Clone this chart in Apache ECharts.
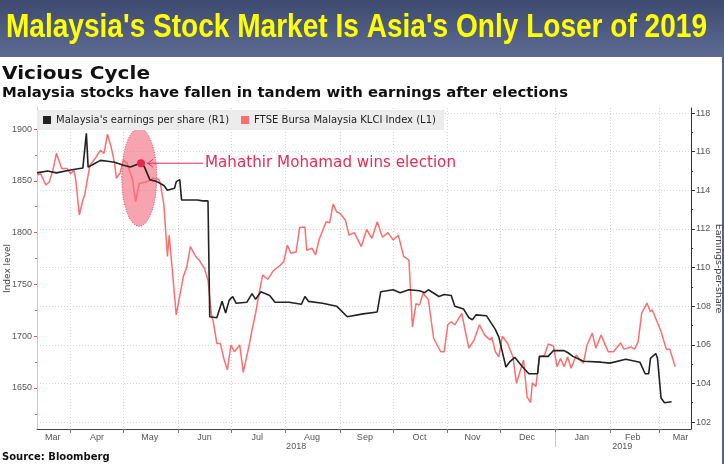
<!DOCTYPE html>
<html lang="en">
<head>
<meta charset="UTF-8">
<title>Malaysia's Stock Market Is Asia's Only Loser of 2019</title>
<script src="https://cdn.jsdelivr.net/npm/echarts@6.0.0/dist/echarts.min.js"></script>
<style>
    html, body { margin: 0; padding: 0; background: #fff; }
    #box { width: 724px; height: 464px; }
</style>
</head>
<body>
<div id="box"></div>
<script>
    // Malaysia's earnings per share (right axis)
    var eps = [
        ['2018-03-13',114.9],['2018-03-19',115.0],['2018-03-20',115.05],['2018-03-24',114.9],['2018-04-01',115.05],
        ['2018-04-08',115.15],['2018-04-10',116.95],['2018-04-11',115.2],['2018-04-15',115.4],['2018-04-18',115.55],
        ['2018-04-22',115.5],['2018-04-26',115.45],['2018-05-01',115.3],['2018-05-05',115.2],['2018-05-09',115.35],
        ['2018-05-11',115.4],['2018-05-13',115.2],['2018-05-16',114.55],['2018-05-20',114.45],['2018-05-24',114.25],
        ['2018-05-26',114.0],['2018-05-30',114.1],['2018-05-31',114.45],['2018-06-02',114.55],['2018-06-03',113.5],
        ['2018-06-12',113.5],['2018-06-15',113.45],['2018-06-18',113.45],['2018-06-19',107.45],['2018-06-23',107.4],
        ['2018-06-26',108.25],['2018-06-28',107.65],['2018-06-30',108.3],['2018-07-02',108.5],['2018-07-04',108.15],
        ['2018-07-10',108.2],['2018-07-13',108.65],['2018-07-15',108.35],['2018-07-18',108.75],['2018-07-23',108.55],
        ['2018-07-26',108.2],['2018-08-03',108.2],['2018-08-10',108.1],['2018-08-12',108.5],['2018-08-14',108.25],
        ['2018-08-22',108.15],['2018-08-30',108.0],['2018-09-05',107.45],['2018-09-14',107.6],['2018-09-22',107.7],
        ['2018-09-24',108.75],['2018-10-01',108.85],['2018-10-05',108.7],['2018-10-10',108.85],['2018-10-16',108.8],
        ['2018-10-19',108.7],['2018-10-21',108.85],['2018-10-27',108.5],['2018-10-30',108.6],['2018-11-03',108.55],
        ['2018-11-05',108.0],['2018-11-10',107.85],['2018-11-13',107.4],['2018-11-15',107.3],['2018-11-17',107.55],
        ['2018-11-23',107.5],['2018-11-28',106.8],['2018-11-30',106.4],['2018-12-04',104.85],['2018-12-06',105.1],
        ['2018-12-09',105.35],['2018-12-13',104.9],['2018-12-17',104.5],['2018-12-22',104.5],['2018-12-23',105.4],
        ['2018-12-28',105.4],['2018-12-31',105.7],['2019-01-06',105.7],['2019-01-08',105.6],['2019-01-11',105.4],
        ['2019-01-17',105.15],['2019-01-27',105.1],['2019-02-01',105.05],['2019-02-10',105.25],['2019-02-18',105.1],
        ['2019-02-21',104.5],['2019-02-23',104.5],['2019-02-24',105.3],['2019-02-27',105.55],['2019-02-28',105.3],
        ['2019-03-02',103.25],['2019-03-04',103.0],['2019-03-08',103.05]
    ];

    // FTSE Bursa Malaysia KLCI Index (left axis)
    var klci = [
        ['2018-03-13',1855.5],['2018-03-15',1857],['2018-03-18',1846],['2018-03-20',1849],['2018-03-22',1860],
        ['2018-03-24',1876.5],['2018-03-27',1862],['2018-03-30',1862],['2018-04-01',1857],['2018-04-03',1860],
        ['2018-04-04',1851],['2018-04-06',1817],['2018-04-08',1831.5],['2018-04-09',1836],['2018-04-12',1865],
        ['2018-04-15',1871.5],['2018-04-18',1879.5],['2018-04-20',1876.5],['2018-04-22',1895],['2018-04-24',1883],
        ['2018-04-26',1867],['2018-04-27',1852.5],['2018-04-29',1857],['2018-05-01',1870],['2018-05-03',1867],
        ['2018-05-06',1852.5],['2018-05-08',1830],['2018-05-10',1847.5],['2018-05-14',1849],['2018-05-18',1852.5],
        ['2018-05-21',1851.5],['2018-05-22',1847.5],['2018-05-24',1826.5],['2018-05-26',1777],['2018-05-27',1797.5],
        ['2018-05-28',1796],['2018-05-31',1720.5],['2018-06-04',1757.5],['2018-06-06',1767],['2018-06-08',1786.5],
        ['2018-06-11',1777],['2018-06-13',1773.5],['2018-06-16',1765.5],['2018-06-18',1754],['2018-06-20',1720.5],
        ['2018-06-21',1714],['2018-06-23',1693],['2018-06-25',1693],['2018-06-27',1678.5],['2018-06-29',1667.5],
        ['2018-06-30',1666.5],['2018-07-01',1691.5],['2018-07-03',1685],['2018-07-06',1691.5],['2018-07-08',1665],
        ['2018-07-11',1688.5],['2018-07-13',1706],['2018-07-15',1722],['2018-07-17',1741.5],['2018-07-19',1759],
        ['2018-07-22',1755],['2018-07-25',1763],['2018-07-29',1768.5],['2018-07-31',1772],['2018-08-02',1788],
        ['2018-08-04',1780],['2018-08-07',1781.5],['2018-08-09',1805],['2018-08-12',1805.5],['2018-08-13',1783],
        ['2018-08-16',1785],['2018-08-18',1778.5],['2018-08-20',1793],['2018-08-24',1810.5],['2018-08-26',1809.5],
        ['2018-08-28',1827.5],['2018-08-30',1820],['2018-09-01',1818.5],['2018-09-04',1812],['2018-09-06',1797.5],
        ['2018-09-09',1800],['2018-09-13',1786.5],['2018-09-16',1803],['2018-09-19',1794.5],['2018-09-22',1810.5],
        ['2018-09-25',1795.5],['2018-09-28',1800],['2018-10-01',1793],['2018-10-04',1797.5],['2018-10-07',1777],
        ['2018-10-10',1773.5],['2018-10-12',1709],['2018-10-14',1731.5],['2018-10-16',1730],['2018-10-18',1741.5],
        ['2018-10-21',1735.5],['2018-10-24',1698],['2018-10-28',1685],['2018-10-30',1685],['2018-11-01',1711],
        ['2018-11-03',1714],['2018-11-05',1711],['2018-11-09',1722],['2018-11-11',1704.5],['2018-11-13',1688.5],
        ['2018-11-16',1696.5],['2018-11-19',1711],['2018-11-22',1701],['2018-11-25',1696.5],['2018-11-26',1699],
        ['2018-11-28',1685],['2018-11-30',1680],['2018-12-02',1700],['2018-12-05',1693],['2018-12-08',1680],
        ['2018-12-10',1654.5],['2018-12-14',1677],['2018-12-16',1641.5],['2018-12-18',1636],['2018-12-19',1655],
        ['2018-12-21',1651.5],['2018-12-23',1680],['2018-12-26',1682],['2018-12-28',1692.5],['2018-12-31',1690.5],
        ['2019-01-02',1670.5],['2019-01-04',1678.5],['2019-01-06',1670.5],['2019-01-08',1680],['2019-01-10',1669],
        ['2019-01-13',1682],['2019-01-15',1677],['2019-01-17',1674],['2019-01-19',1691.5],['2019-01-22',1703],
        ['2019-01-24',1688.5],['2019-01-27',1701],['2019-01-31',1685],['2019-02-03',1685],['2019-02-07',1693.5],
        ['2019-02-09',1687.5],['2019-02-13',1689.5],['2019-02-15',1687.5],['2019-02-17',1694.5],['2019-02-19',1722],
        ['2019-02-22',1732],['2019-02-24',1723.5],['2019-02-25',1725.5],['2019-03-02',1704.5],['2019-03-05',1687.5],
        ['2019-03-07',1687.5],['2019-03-10',1670.5]
    ];

    // axis ticks and labels
    var leftLabels = [1650, 1700, 1750, 1800, 1850, 1900];
    var leftMinor = [1625, 1675, 1725, 1775, 1825, 1875];
    var rightLabels = [102, 104, 106, 108, 110, 112, 114, 116, 118];
    var rightMinor = [103, 105, 107, 109, 111, 113, 115, 117];
    var monthStarts = ['2018-04-01','2018-05-01','2018-06-01','2018-07-01','2018-08-01','2018-09-01',
        '2018-10-01','2018-11-01','2018-12-01','2019-01-01','2019-02-01','2019-03-01'];
    var monthLabels = [['2018-03-22','Mar'],['2018-04-16','Apr'],['2018-05-16','May'],['2018-06-16','Jun'],
        ['2018-07-16','Jul'],['2018-08-16','Aug'],['2018-09-15','Sep'],['2018-10-16','Oct'],['2018-11-15','Nov'],
        ['2018-12-16','Dec'],['2019-01-16','Jan'],['2019-02-14','Feb'],['2019-03-13','Mar']];
    var yearLabels = [['2018-08-07','2018'],['2019-02-08','2019']];
    var yearBreak = '2019-01-01';
    var xStart = '2018-03-13', xEnd = '2019-03-19';

    // election annotation
    var electionDate = '2018-05-11', electionEps = 115.4;
    var ellipseCenter = ['2018-05-10', 1853.5];
    var noteText = 'Mahathir Mohamad wins election';

    var epsName = "Malaysia's earnings per share (R1)";
    var klciName = 'FTSE Bursa Malaysia KLCI Index (L1)';
    var bannerTitle = "Malaysia's Stock Market Is Asia's Only Loser of 2019";
    var title = 'Vicious Cycle';
    var subtitle = 'Malaysia stocks have fallen in tandem with earnings after elections';
    var source = 'Source: Bloomberg';

    // dates become day numbers (local midnight) on a value axis
    function t(s) { var p = s.split('-'); return new Date(+p[0], p[1] - 1, +p[2]).getTime() / 86400000; }
    function labelMap(list) { var m = {}; list.forEach(function (d) { m[t(d[0])] = d[1]; }); return m; }
    var monthMap = labelMap(monthLabels), yearMap = labelMap(yearLabels);

    var ctx = document.createElement('canvas').getContext('2d');
    function fit(text, font, width) { ctx.font = font; return width / ctx.measureText(text).width; }

    var narrow = "'Liberation Sans Narrow', 'Liberation Sans', sans-serif";
    var gridStyle = { color: '#d6d6d6', type: [1, 2], width: 1 };
    var plain = function (v) { return String(v); };

    var myChart = echarts.init(document.getElementById('box'));
    var option = {
        animation: false,
        backgroundColor: '#fff',
        grid: { left: 37, right: 33, top: 108, bottom: 35, containLabel: false, outerBoundsMode: 'none' },
        legend: {
            data: [epsName, klciName],
            left: 37, top: 110,
            backgroundColor: '#ececec',
            padding: [5, 8, 5, 6],
            itemWidth: 8, itemHeight: 8, itemGap: 12,
            icon: 'rect',
            textStyle: { fontFamily: 'DejaVu Sans', fontSize: 10, color: '#222' }
        },
        xAxis: [{
            type: 'value', min: t(xStart), max: t(xEnd),
            axisLine: { lineStyle: { color: '#444', width: 1 } },
            axisTick: { customValues: monthStarts.map(t), length: 4, lineStyle: { color: '#777' } },
            axisLabel: {
                customValues: monthLabels.map(function (d) { return t(d[0]); }),
                formatter: function (v) { return monthMap[v] || ''; },
                fontFamily: narrow, fontSize: 9, color: '#555', margin: 4
            },
            splitLine: { show: true, lineStyle: gridStyle }
        }, {
            type: 'value', min: t(xStart), max: t(xEnd), position: 'bottom', offset: 3,
            axisLine: { show: false },
            axisTick: { show: true, customValues: [t(yearBreak)], length: 15, lineStyle: { color: '#c8c8c8' } },
            axisLabel: {
                customValues: yearLabels.map(function (d) { return t(d[0]); }),
                formatter: function (v) { return yearMap[v] || ''; },
                fontFamily: narrow, fontSize: 9, color: '#555', margin: 10
            },
            splitLine: { show: false }
        }],
        yAxis: [{
            type: 'value', position: 'left', min: 1610.4, max: 1920.3,
            name: 'Index level', nameLocation: 'middle', nameGap: 25, nameMoveOverlap: false,
            nameTextStyle: { fontFamily: 'DejaVu Sans', fontSize: 9, color: '#444' },
            axisLine: { show: true, lineStyle: { color: '#f7b9b9' } },
            axisTick: { show: true, customValues: leftLabels, length: 3, lineStyle: { color: '#ff4d4d' } },
            axisLabel: { customValues: leftLabels, formatter: plain, fontFamily: narrow, fontSize: 9, color: '#555', margin: 5 },
            splitLine: { show: false }
        }, {
            type: 'value', position: 'right', min: 101.64, max: 118.26,
            name: 'Earnings-per-share', nameLocation: 'middle', nameGap: 22, nameRotate: -90, nameMoveOverlap: false,
            nameTextStyle: { fontFamily: 'DejaVu Sans', fontSize: 9.5, color: '#444' },
            axisLine: { show: true, lineStyle: { color: '#333' } },
            axisTick: { show: true, customValues: rightLabels, length: 4, lineStyle: { color: '#333' } },
            axisLabel: { customValues: rightLabels, formatter: plain, fontFamily: narrow, fontSize: 9, color: '#555', margin: 5 },
            splitLine: { show: true, lineStyle: gridStyle }
        }, {
            type: 'value', position: 'left', min: 1610.4, max: 1920.3,
            axisLine: { show: false },
            axisTick: { show: true, customValues: leftMinor, length: 2, lineStyle: { color: '#ff4d4d' } },
            axisLabel: { show: false }, splitLine: { show: false }
        }, {
            type: 'value', position: 'right', min: 101.64, max: 118.26,
            axisLine: { show: false },
            axisTick: { show: true, customValues: rightMinor, length: 2, lineStyle: { color: '#333' } },
            axisLabel: { show: false }, splitLine: { show: false }
        }],
        series: [{
            name: klciName, type: 'line', yAxisIndex: 0,
            data: klci.map(function (d) { return [t(d[0]), d[1]]; }),
            showSymbol: false, z: 2,
            lineStyle: { color: '#ff6e6e', width: 1.5 }, itemStyle: { color: '#ff6e6e' }
        }, {
            name: epsName, type: 'line', yAxisIndex: 1,
            data: eps.map(function (d) { return [t(d[0]), d[1]]; }),
            showSymbol: false, z: 3,
            lineStyle: { color: '#222', width: 1.6 }, itemStyle: { color: '#222' },
            markPoint: {
                silent: true,
                data: [{ coord: [t(electionDate), electionEps], symbol: 'circle', symbolSize: 8,
                    itemStyle: { color: '#e8284a' }, label: { show: false } }]
            }
        }]
    };
    myChart.setOption(option);

    // annotation and titles placed from the chart's own scales
    var dot = myChart.convertToPixel({ xAxisIndex: 0, yAxisIndex: 1 }, [t(electionDate), electionEps]);
    var ec = myChart.convertToPixel({ xAxisIndex: 0, yAxisIndex: 0 }, [t(ellipseCenter[0]), ellipseCenter[1]]);
    var bannerFont = 'bold 33px "Liberation Sans"';
    var titleFont = 'bold 18px "DejaVu Sans"';
    var subFont = 'bold 14px "DejaVu Sans"';
    var noteFont = '15px "DejaVu Sans"';

    myChart.setOption({
        graphic: [
            { type: 'rect', z: -10, shape: { x: 0, y: 0, width: 724, height: 57 },
              style: { fill: new echarts.graphic.LinearGradient(0, 0, 0, 1, [
                  { offset: 0, color: '#3e4a6f' }, { offset: 1, color: '#5d6b93' }]) } },
            { type: 'rect', z: -10, shape: { x: 722, y: 57, width: 2, height: 407 }, style: { fill: '#56628a' } },
            { type: 'text', z: 100, x: 6, y: 28, scaleX: fit(bannerTitle, bannerFont, 701),
              style: { text: bannerTitle, font: bannerFont, fill: '#ffff00', align: 'left', verticalAlign: 'middle' } },
            { type: 'text', z: 100, x: 2, y: 74, scaleX: fit(title, titleFont, 148),
              style: { text: title, font: titleFont, fill: '#111', align: 'left', verticalAlign: 'middle' } },
            { type: 'text', z: 100, x: 2, y: 93, scaleX: fit(subtitle, subFont, 566),
              style: { text: subtitle, font: subFont, fill: '#111', align: 'left', verticalAlign: 'middle' } },
            { type: 'text', z: 100, x: 2, y: 457,
              style: { text: source, font: 'bold 10px "DejaVu Sans"', fill: '#111', align: 'left', verticalAlign: 'middle' } },
            { type: 'ellipse', z: 1, shape: { cx: ec[0], cy: ec[1], rx: 17.5, ry: 49 },
              style: { fill: 'rgba(243,104,124,0.6)', stroke: '#e44d66', lineWidth: 1, lineDash: [1, 1.5] } },
            { type: 'line', z: 50, shape: { x1: dot[0] + 6, y1: dot[1], x2: dot[0] + 62, y2: dot[1] },
              style: { stroke: '#e8285a', lineWidth: 1 } },
            { type: 'polyline', z: 50, shape: { points: [[dot[0] + 12, dot[1] - 4], [dot[0] + 7, dot[1]], [dot[0] + 12, dot[1] + 4]] },
              style: { stroke: '#e8285a', lineWidth: 1, fill: null } },
            { type: 'text', z: 100, x: dot[0] + 64, y: dot[1], scaleX: fit(noteText, noteFont, 251),
              style: { text: noteText, font: noteFont, fill: '#eb2a55', align: 'left', verticalAlign: 'middle' } }
        ]
    });
</script>
</body>
</html>
